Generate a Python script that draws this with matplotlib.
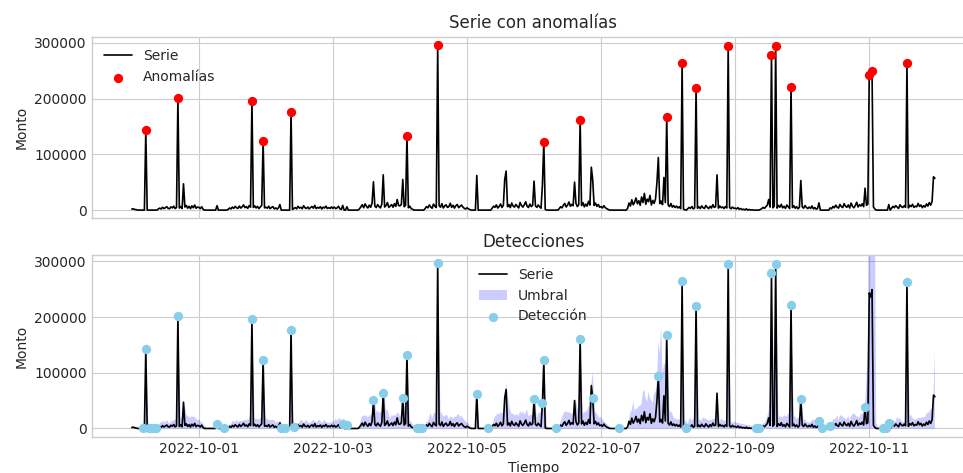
import numpy as np
import pandas as pd
import matplotlib
matplotlib.use("Agg")
import matplotlib.pyplot as plt
import matplotlib.dates as mdates

plt.style.use("seaborn-v0_8-whitegrid")
plt.rcParams["font.family"] = ["DejaVu Sans"]

# amounts every 30 minutes, in thousands; one row per day from 2022-09-30 to 2022-10-11
monto_miles = [
    1.8, 2.4, 1.1, 0.9, 0, 0, 0, 0, 0, 0, 143, 0, 0, 0, 0, 0, 0, 0, 0, 2.2, 3.6, 1.9, 5.1, 2.7, 4.3, 6.2, 3.1, 2.5, 5.8, 3.9, 7.1, 2.8, 4.6, 201.4, 3.7, 6.4, 2.9, 47.2, 5.5, 8.3, 3.4, 6.9, 2.6, 7.7, 4.2, 9.1, 3.3, 5.6,
    4.9, 2.7, 6.1, 1.6, 0, 0, 0, 0, 0, 0, 0, 0, 0, 8.0, 0, 0, 0, 0, 0, 0, 0, 1.4, 3.8, 2.1, 5.4, 3.2, 6.7, 4.1, 2.9, 7.3, 3.6, 5.9, 9.4, 4.4, 6.2, 3.1, 8.1, 5.3, 196.6, 4.8, 7.5, 3.9, 6.6, 2.8, 5.7, 8.4, 123.7, 4.0,
    5.2, 3.4, 7.0, 2.5, 4.8, 6.3, 2.2, 3.9, 1.7, 4.1, 10.0, 0, 0, 0, 0, 0, 0, 0, 176.3, 1.2, 3.0, 4.5, 2.3, 6.8, 3.6, 5.1, 2.4, 7.9, 4.2, 3.0, 5.6, 2.1, 4.7, 6.4, 3.3, 8.5, 2.6, 4.9, 3.5, 6.1, 2.0, 5.3, 3.8, 7.2, 2.9, 4.4, 3.1, 5.8,
    3.1, 5.4, 2.6, 4.0, 6.9, 2.2, 1.3, 8.5, 0, 0, 6.0, 0, 0, 0, 0, 0, 0, 0, 0, 2.4, 5.8, 9.6, 4.3, 11.2, 6.7, 3.8, 8.9, 5.1, 12.4, 50.8, 7.2, 4.6, 9.8, 6.3, 3.9, 10.7, 63.3, 5.5, 8.1, 13.6, 4.8, 7.4, 9.9, 5.2, 11.5, 6.6, 19.0, 8.2,
    7.6, 10.3, 55.0, 6.1, 8.8, 132.7, 4.2, 7.0, 2.9, 1.5, 0, 0, 0, 0, 0, 0, 0, 0, 2.8, 6.4, 4.1, 9.2, 5.6, 3.3, 10.8, 6.9, 4.7, 296.4, 8.0, 5.2, 11.6, 3.8, 7.4, 9.5, 4.9, 6.2, 12.3, 5.0, 8.6, 3.6, 7.9, 10.1, 4.4, 6.8, 9.0, 5.7, 3.2, 2.0,
    4.1, 2.3, 1.0, 0, 0, 0, 0, 62.2, 0, 0, 0, 0, 0, 0, 0, 0, 0, 0, 3.5, 7.1, 5.0, 9.4, 3.7, 6.5, 11.0, 4.8, 8.3, 55.0, 70.0, 6.0, 9.9, 4.5, 12.8, 7.3, 5.4, 10.2, 6.8, 3.9, 13.7, 8.1, 5.3, 9.6, 15.0, 7.0, 4.6, 10.9, 6.3, 8.7,
    52.0, 7.5, 4.9, 9.3, 5.8, 3.4, 46.0, 122.5, 1.2, 0, 0, 0, 0, 0, 0, 0, 0, 0, 2.5, 6.1, 4.0, 8.7, 11.9, 5.6, 9.1, 14.6, 6.9, 10.4, 7.8, 50.2, 12.1, 6.4, 9.7, 161.3, 8.2, 13.3, 5.9, 10.8, 7.1, 15.8, 9.0, 77.0, 54.4, 8.4, 12.6, 6.7, 10.0, 5.1,
    6.3, 3.8, 7.9, 4.5, 2.6, 1.4, 0, 0, 0, 0, 0, 0, 0, 0, 0, 0, 0, 0, 0, 3.2, 12.8, 7.4, 18.5, 9.6, 14.2, 21.7, 11.3, 16.9, 8.7, 23.5, 13.6, 30.0, 10.4, 19.8, 15.1, 26.4, 9.2, 17.3, 12.0, 20.6, 50.0, 94.4, 11.7, 16.2, 9.8, 58.6, 13.4, 167.3,
    9.4, 6.2, 11.8, 5.3, 8.1, 4.6, 7.2, 3.9, 6.0, 2.7, 264.1, 1.8, 0.6, 0, 2.4, 4.8, 3.1, 6.5, 2.2, 4.0, 219.3, 3.4, 5.9, 2.8, 7.6, 4.3, 3.0, 8.4, 5.1, 2.6, 6.8, 3.7, 9.7, 4.9, 6.1, 63.3, 3.5, 7.3, 4.4, 5.6, 2.9, 6.4, 3.8, 295.2, 4.7, 2.5, 5.5, 3.2,
    3.6, 2.1, 4.4, 1.5, 2.8, 0.9, 1.7, 0.4, 2.3, 0, 1.2, 0, 0.6, 0, 0, 0, 0, 0, 1.1, 2.6, 4.9, 3.2, 6.1, 8.8, 19.0, 5.4, 279.0, 4.1, 7.0, 295.2, 3.6, 8.5, 5.2, 10.3, 4.0, 6.7, 3.1, 9.1, 5.8, 2.7, 221.7, 4.6, 7.8, 3.3, 6.2, 2.4, 5.0, 53.2,
    6.0, 3.4, 8.2, 4.7, 2.9, 5.5, 3.1, 7.4, 2.2, 4.6, 1.8, 3.0, 13.0, 0, 0, 0, 0, 0, 0, 0, 4.0, 2.3, 6.6, 4.1, 8.9, 5.3, 3.6, 10.2, 6.4, 4.5, 11.7, 7.0, 5.1, 9.3, 3.8, 12.6, 6.9, 4.2, 8.0, 14.1, 5.6, 9.7, 7.3, 11.4, 6.1, 39.4, 8.6, 10.5,
    243.2, 236.0, 249.2, 5.6, 2.1, 0, 0, 0, 0, 0, 0, 0, 0, 0, 10.0, 0, 3.3, 6.8, 4.2, 8.1, 5.4, 3.0, 9.5, 6.2, 4.7, 7.7, 5.0, 263.5, 3.9, 8.6, 6.3, 10.4, 4.8, 7.1, 5.9, 12.0, 6.6, 9.2, 4.3, 8.0, 5.5, 11.1, 7.2, 13.5, 9.0, 15.6, 59.8, 57.0,
]

anomalias = [
    "2022-09-30 05:00", "2022-09-30 16:30", "2022-10-01 19:00", "2022-10-01 23:00",
    "2022-10-02 09:00", "2022-10-04 02:30", "2022-10-04 13:30", "2022-10-06 03:30",
    "2022-10-06 16:30", "2022-10-07 23:30", "2022-10-08 05:00", "2022-10-08 10:00",
    "2022-10-08 21:30", "2022-10-09 13:00", "2022-10-09 14:30", "2022-10-09 20:00",
    "2022-10-11 00:00", "2022-10-11 01:00", "2022-10-11 13:30",
]

detecciones = [
    "2022-09-30 04:00", "2022-09-30 05:00", "2022-09-30 06:00", "2022-09-30 06:30",
    "2022-09-30 07:30", "2022-09-30 08:30", "2022-09-30 16:30", "2022-10-01 06:30",
    "2022-10-01 09:00", "2022-10-01 19:00", "2022-10-01 23:00", "2022-10-02 05:30",
    "2022-10-02 07:00", "2022-10-02 09:00", "2022-10-02 10:00", "2022-10-03 03:30",
    "2022-10-03 05:00", "2022-10-03 14:30", "2022-10-03 18:00", "2022-10-04 01:00",
    "2022-10-04 02:30", "2022-10-04 06:00", "2022-10-04 07:00", "2022-10-04 08:00",
    "2022-10-04 13:30", "2022-10-05 03:30", "2022-10-05 07:30", "2022-10-06 00:00",
    "2022-10-06 03:00", "2022-10-06 03:30", "2022-10-06 08:00", "2022-10-06 16:30",
    "2022-10-06 21:00", "2022-10-07 06:30", "2022-10-07 20:30", "2022-10-07 23:30",
    "2022-10-08 05:00", "2022-10-08 06:30", "2022-10-08 10:00", "2022-10-08 21:30",
    "2022-10-09 07:30", "2022-10-09 08:30", "2022-10-09 13:00", "2022-10-09 14:30",
    "2022-10-09 20:00", "2022-10-09 23:30", "2022-10-10 06:00", "2022-10-10 07:00",
    "2022-10-10 10:00", "2022-10-10 22:30", "2022-10-11 05:00", "2022-10-11 06:00",
    "2022-10-11 07:00", "2022-10-11 13:30",
]

fechas = pd.date_range("2022-09-30", periods=len(monto_miles), freq="30min")
serie = pd.Series(monto_miles, index=fechas, dtype=float) * 1000

# threshold band: short trailing mean plus a robust spread (median absolute deviation)
mediana = serie.rolling(6, center=True, min_periods=1).median()
mad = (serie - mediana).abs().rolling(6, center=True, min_periods=1).median()
superior = serie.rolling(2, min_periods=1).mean() + 7 * mad

idx_anom = pd.to_datetime(anomalias)
idx_det = pd.to_datetime(detecciones)

fig, (ax1, ax2) = plt.subplots(2, 1, figsize=(9.63, 4.73), dpi=100, sharex=True, sharey=True)
fig.subplots_adjust(left=0.0952, right=1.0125, top=0.9224, bottom=0.0767, hspace=0.202)

ax1.plot(serie.index, serie.values, color="black", lw=1.2, label="Serie")
ax1.scatter(idx_anom, serie.reindex(idx_anom), color="red", s=32, zorder=3, label="Anomalías")
ax1.set_title("Serie con anomalías")
ax1.set_ylabel("Monto")
ax1.legend(loc="upper left")

ax2.plot(serie.index, serie.values, color="black", lw=1.2, label="Serie")
ax2.fill_between(serie.index, 0, superior, color="blue", alpha=0.2, lw=0, label="Umbral")
ax2.scatter(idx_det, serie.reindex(idx_det), color="skyblue", s=32, zorder=3, label="Detección")
ax2.set_title("Detecciones")
ax2.set_ylabel("Monto")
ax2.set_xlabel("Tiempo")
ax2.legend(loc="upper center")

ax1.set_ylim(-14820, 311220)
ax2.xaxis.set_major_locator(mdates.DayLocator(bymonthday=[1, 3, 5, 7, 9, 11]))
ax2.xaxis.set_major_formatter(mdates.DateFormatter("%Y-%m-%d"))

fig.savefig("out.png", dpi=100)
